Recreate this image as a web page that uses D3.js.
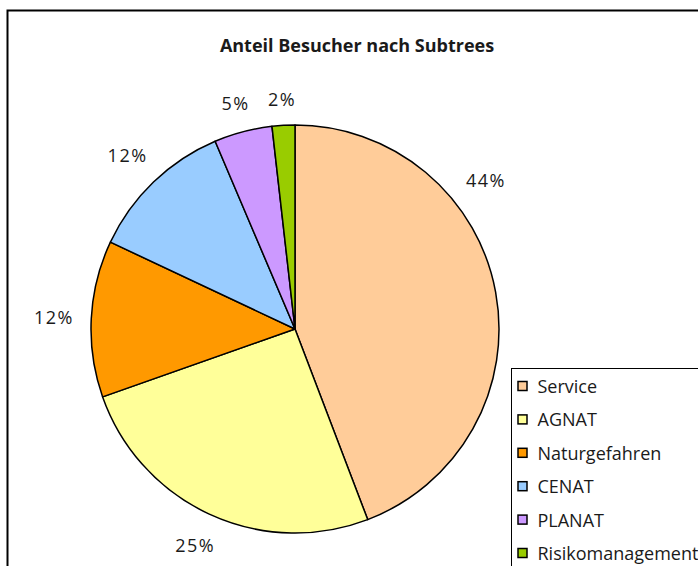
<!DOCTYPE html>
<html>
<head>
<meta charset="utf-8">
<script src="https://cdn.jsdelivr.net/npm/d3@7"></script>
<style>
  html, body { margin: 0; padding: 0; background: #fff; }
  svg { display: block; }
  text { font-family: "Open Sans", "DejaVu Sans", sans-serif; fill: #1a1a1a; }
</style>
</head>
<body>
<div id="chart"></div>
<script>
//******************************************************************************
//**  Anteil Besucher nach Subtrees (pie)
//******************************************************************************

  // data
    var categories = ["Service", "AGNAT", "Naturgefahren", "CENAT", "PLANAT", "Risikomanagement"];
    var values = [44.2, 25.4, 12.4, 11.6, 4.6, 1.8];
    var colors = ["#FFCC99", "#FFFF99", "#FF9900", "#99CCFF", "#CC99FF", "#99CC00"];
    var title = "Anteil Besucher nach Subtrees";

    var width = 698, height = 566;
    var cx = 295, cy = 329, radius = 204;

    var svg = d3.select("#chart").append("svg")
        .attr("width", width)
        .attr("height", height);

  // chart area border (runs off the page right + bottom)
    svg.append("rect")
        .attr("x", 7.5).attr("y", 10.5)
        .attr("width", width + 20).attr("height", height + 20)
        .attr("fill", "#fff")
        .attr("stroke", "#000")
        .attr("stroke-width", 2);

    svg.append("text")
        .attr("x", 357).attr("y", 52)
        .attr("text-anchor", "middle")
        .style("font-weight", "bold")
        .style("font-size", "18px")
        .text(title);

  //**************************************************************************
  //** pie
  //**************************************************************************
    var data = categories.map(function(c, i){ return {name: c, value: values[i], color: colors[i]}; });
    var totalValue = d3.sum(values);

    var pie = d3.pie().sort(null).value(function(d){ return d.value; });
    var arcs = pie(data);

    var arc = d3.arc().innerRadius(0).outerRadius(radius);

    var g = svg.append("g").attr("transform", "translate(" + cx + "," + cy + ")");

    g.selectAll("path.slice")
        .data(arcs)
        .enter()
        .append("path")
        .attr("class", "slice")
        .attr("d", arc)
        .attr("fill", function(d){ return d.data.color; })
        .attr("stroke", "#000")
        .attr("stroke-width", 1.5)
        .attr("stroke-linejoin", "round");

  // labels outside the rim: the nearest edge of the text box sits a fixed gap
  // away from the circle (first one pushed up like excel's best fit)
    var gap = 17;
    g.selectAll("text.lbl")
        .data(arcs)
        .enter()
        .append("text")
        .attr("class", "lbl")
        .attr("text-anchor", "middle")
        .attr("dominant-baseline", "central")
        .style("font-size", "18px")
        .style("letter-spacing", "1.5px")
        .text(function(d){ return Math.round(d.data.value / totalValue * 100) + "%"; })
        .attr("transform", function(d, i){
            var a = (d.startAngle + d.endAngle) / 2;
            if (i === 0) a = 52 * Math.PI / 180;
            var box = this.getBBox();
            var s = Math.sin(a), c = Math.cos(a);
            var ext = Math.abs(s) * box.width / 2 + Math.abs(c) * 9;
            var r = radius + gap + ext;
            return "translate(" + (r * s) + "," + (-r * c) + ")";
        });

  //**************************************************************************
  //** legend
  //**************************************************************************
    var legend = svg.append("g").attr("transform", "translate(511.5,368.5)");
    legend.append("rect")
        .attr("width", 300).attr("height", 300)
        .attr("fill", "#fff")
        .attr("stroke", "#000")
        .attr("stroke-width", 1);

    var rowY = d3.scalePoint().domain(categories).range([17.5, 184.5]);

    var item = legend.selectAll("g.item")
        .data(data)
        .enter()
        .append("g")
        .attr("class", "item")
        .attr("transform", function(d){ return "translate(0," + rowY(d.name) + ")"; });

    item.append("rect")
        .attr("x", 6.5).attr("y", -4.5)
        .attr("width", 9).attr("height", 9)
        .attr("fill", function(d){ return d.color; })
        .attr("stroke", "#000")
        .attr("stroke-width", 1.5);

    item.append("text")
        .attr("x", 26)
        .attr("dominant-baseline", "central")
        .style("font-size", "18px")
        .text(function(d){ return d.name; });
</script>
</body>
</html>
